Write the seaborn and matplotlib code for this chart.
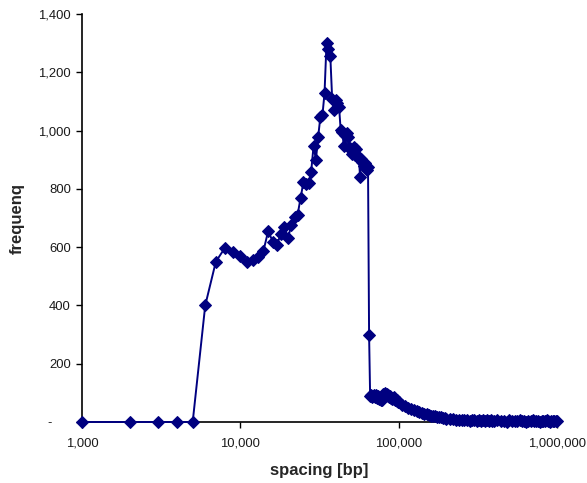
import numpy as np
import seaborn as sns
import matplotlib
matplotlib.use('Agg')
import matplotlib.pyplot as plt
from matplotlib.ticker import FuncFormatter, FixedLocator, NullLocator

# bin positions (bp); bins are 1 kb wide near the peak, coarser samples in the tail
spacing_main = list(range(1000, 101000, 1000))
spacing_tail = list(range(105000, 205000, 5000)) + list(range(210000, 410000, 10000)) \
    + list(range(420000, 1020000, 20000))

# frequency, 1 kb .. 65 kb
freq_rise = [0, 0, 0, 0, 0, 400, 550, 598, 584, 570,
             548, 556, 565, 588, 656, 619, 607, 645, 670, 632,
             676, 705, 712, 768, 822, 815, 821, 859, 948, 899,
             979, 1046, 1054, 1128, 1300, 1280, 1255, 1108, 1072, 1105,
             1095, 1082, 1002, 995, 948, 985, 990, 978, 940, 932,
             920, 944, 915, 938, 905, 911, 842, 902, 893, 880,
             888, 870, 865, 876, 300]
# 66 kb .. 100 kb
freq_drop = [88, 92, 86, 90, 94, 87, 91, 84, 88, 80,
             83, 76, 74, 86, 95, 90, 98, 93, 96, 88,
             92, 85, 88, 82, 84, 80, 83, 87, 78, 76,
             74, 75, 72, 70, 68]
# 105 kb .. 1 Mb
freq_tail = [60, 54, 48, 44, 40, 37, 34, 31, 28, 26,
             24, 22, 21, 19, 18, 17, 16, 14, 13, 12,
             11, 9, 8, 7, 8, 6, 8, 5, 7, 7,
             4, 6, 3, 7, 5, 6, 2, 6, 5, 3,
             6, 2, 5, 1, 7, 4, 5, 2, 6, 3,
             5, 1, 5, 4, 6, 2, 5, 4, 1, 5,
             4, 2, 6, 4, 1, 4, 5, 2, 4, 3]

spacing = spacing_main + spacing_tail
frequency = freq_rise + freq_drop + freq_tail

x_ticks = [1000, 10000, 100000, 1000000]
y_ticks = [0, 200, 400, 600, 800, 1000, 1200, 1400]

sns.set_style('white')
plt.rcParams['font.family'] = ['Liberation Sans', 'DejaVu Sans']

navy = '#000080'
fig, ax = plt.subplots(figsize=(5.87, 4.83), dpi=100)
fig.subplots_adjust(left=0.1397, right=0.949, bottom=0.1263, top=0.971)

sns.lineplot(x=spacing, y=frequency, ax=ax, color=navy, linewidth=1.4,
             marker='D', markersize=6.4, markeredgecolor=navy,
             markerfacecolor=navy, sort=False, clip_on=False, zorder=3)

ax.set_xscale('log')
ax.set_xlim(1000, 1000000)
ax.set_ylim(0, 1400)
ax.xaxis.set_major_locator(FixedLocator(x_ticks))
ax.xaxis.set_minor_locator(NullLocator())
ax.yaxis.set_major_locator(FixedLocator(y_ticks))
ax.xaxis.set_major_formatter(FuncFormatter(lambda v, p: f'{int(round(v)):,}'))
ax.yaxis.set_major_formatter(FuncFormatter(lambda v, p: '-     ' if v == 0 else f'{int(v):,}'))

for side in ['top', 'right']:
    ax.spines[side].set_visible(False)
for side in ['left', 'bottom']:
    ax.spines[side].set_color('black')
    ax.spines[side].set_linewidth(1.2)

ax.tick_params(axis='both', which='major', direction='out', length=4, width=1,
               color='black', labelsize=9.4, labelcolor='#1a1a1a')
ax.tick_params(axis='x', pad=7, bottom=True)
ax.tick_params(axis='y', pad=4, left=True)
ax.grid(False)

ax.set_xlabel('spacing [bp]', fontsize=12, fontweight='bold', labelpad=10)
ax.set_ylabel('frequenq', fontsize=12, fontweight='bold', labelpad=10)

fig.savefig('out.png', dpi=100)
